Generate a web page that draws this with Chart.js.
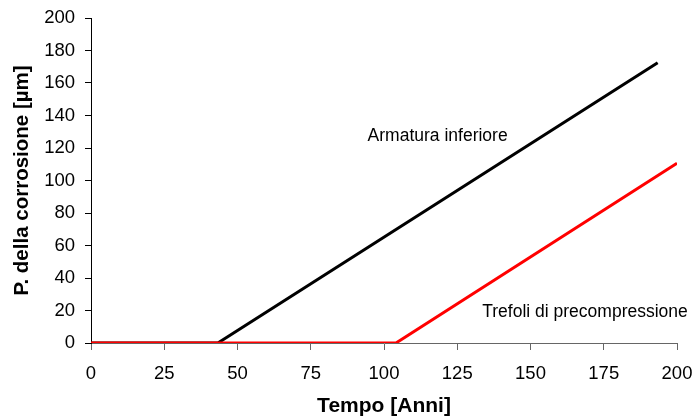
<!DOCTYPE html>
<html>
<head>
<meta charset="utf-8">
<script src="https://cdn.jsdelivr.net/npm/chart.js@4.4.1/dist/chart.umd.min.js"></script>
<style>
html,body{margin:0;padding:0;background:#fff;}
#wrap{width:694px;height:417px;position:relative;}
</style>
</head>
<body>
<div id="wrap"><canvas id="c" width="694" height="417"></canvas></div>
<script>
const xTicks = [0, 25, 50, 75, 100, 125, 150, 175, 200];
const yTicks = [0, 20, 40, 60, 80, 100, 120, 140, 160, 180, 200];
const armaturaX = [0, 43.3, 193.4];
const armaturaY = [0, 0, 172.5];
const trefoliX = [0, 104.1, 200];
const trefoliY = [0, 0, 110.6];
const labels = [
  {text: 'Armatura inferiore', x: 118.3, y: 127.4},
  {text: 'Trefoli di precompressione', x: 168.6, y: 18.8}
];

const toPts = (xs, ys) => xs.map((x, i) => ({x: x, y: ys[i]}));
const FONT = '"Liberation Sans", Arial, sans-serif';

const labelPlugin = {
  id: 'labelPlugin',
  afterDatasetsDraw(chart) {
    const ctx = chart.ctx;
    const xs = chart.scales.x, ys = chart.scales.y;
    ctx.save();
    ctx.font = '17.5px ' + FONT;
    ctx.fillStyle = '#000';
    ctx.textAlign = 'center';
    ctx.textBaseline = 'middle';
    labels.forEach(l => ctx.fillText(l.text, xs.getPixelForValue(l.x), ys.getPixelForValue(l.y)));
    ctx.restore();
  }
};

new Chart(document.getElementById('c'), {
  type: 'scatter',
  data: {
    datasets: [
      {label: 'Armatura inferiore', data: toPts(armaturaX, armaturaY), showLine: true, order: 1,
       borderColor: '#000', borderWidth: 3, pointRadius: 0, fill: false, tension: 0},
      {label: 'Trefoli di precompressione', data: toPts(trefoliX, trefoliY), showLine: true, order: 0,
       borderColor: '#ff0000', borderWidth: 3, pointRadius: 0, fill: false, tension: 0}
    ]
  },
  options: {
    responsive: false,
    animation: false,
    devicePixelRatio: 1,
    layout: {padding: {top: 18, right: 17, left: 0, bottom: 0}},
    plugins: {legend: {display: false}, tooltip: {enabled: false}},
    scales: {
      x: {
        type: 'linear', min: 0, max: 200,
        afterBuildTicks: s => { s.ticks = xTicks.map(v => ({value: v})); },
        afterFit: s => { s.height = 74; s.paddingLeft = 0; s.paddingRight = 0; },
        grid: {drawOnChartArea: false, drawTicks: true, tickLength: 7, color: '#666'},
        border: {color: '#666', width: 1},
        ticks: {color: '#000', font: {size: 18.5, family: FONT}, padding: 13, maxRotation: 0, autoSkip: false},
        title: {display: true, text: 'Tempo [Anni]', color: '#000', font: {size: 21, weight: 'bold', family: FONT, lineHeight: 1}, padding: {top: 0, bottom: 0}}
      },
      y: {
        type: 'linear', min: 0, max: 200,
        afterBuildTicks: s => { s.ticks = yTicks.map(v => ({value: v})); },
        afterFit: s => { s.width = 91; s.paddingTop = 0; s.paddingBottom = 0; },
        grid: {drawOnChartArea: false, drawTicks: true, tickLength: 6, color: '#000'},
        border: {color: '#000', width: 1},
        ticks: {color: '#000', font: {size: 18.5, family: FONT}, padding: 10, autoSkip: false},
        title: {display: true, text: 'P. della corrosione [µm]', color: '#000', font: {size: 20.5, weight: 'bold', family: FONT, lineHeight: 1}, padding: {top: 12, bottom: 0}}
      }
    }
  },
  plugins: [labelPlugin]
});
</script>
</body>
</html>
